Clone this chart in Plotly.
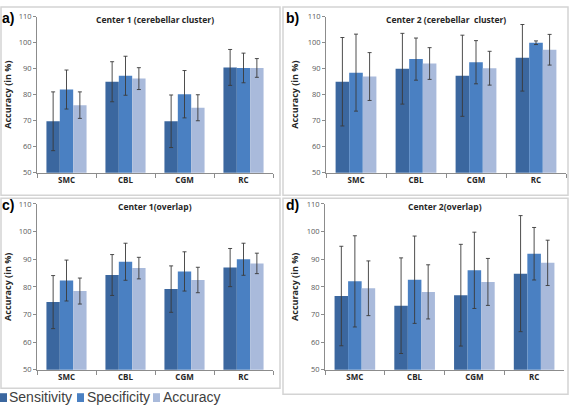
import plotly.graph_objects as go

W, H = 569, 407

categories = ["SMC", "CBL", "CGM", "RC"]
series_names = ["Sensitivity", "Specificity", "Accuracy"]
panel_titles = ["Center 1 (cerebellar cluster)", "Center 2 (cerebellar  cluster)",
                "Center 1(overlap)", "Center 2(overlap)"]
panel_letters = ["a)", "b)", "c)", "d)"]
y_ticks = [50, 60, 70, 80, 90, 100, 110]

# panel a
a_sens = [69.8, 85.0, 69.8, 90.5]
a_sens_err = [11.3, 7.7, 10.1, 6.9]
a_spec = [82.0, 87.3, 80.2, 90.3]
a_spec_err = [7.5, 7.5, 9.1, 5.7]
a_acc = [76.0, 86.2, 75.0, 90.3]
a_acc_err = [5.1, 4.2, 5.0, 3.6]
# panel b
b_sens = [85.0, 90.0, 87.3, 94.2]
b_sens_err = [17.0, 13.6, 15.6, 12.8]
b_spec = [88.5, 93.7, 92.5, 100.0]
b_spec_err = [14.8, 8.1, 8.3, 0.7]
b_acc = [87.0, 92.0, 90.2, 97.3]
b_acc_err = [9.2, 6.1, 6.5, 5.9]
# panel c
c_sens = [74.5, 84.3, 79.2, 87.0]
c_sens_err = [9.6, 7.4, 8.4, 6.9]
c_spec = [82.3, 89.1, 85.6, 90.0]
c_spec_err = [7.4, 6.7, 7.1, 5.8]
c_acc = [78.5, 86.8, 82.5, 88.5]
c_acc_err = [4.7, 3.9, 4.6, 3.7]
# panel d
d_sens = [76.7, 73.2, 77.0, 84.8]
d_sens_err = [18.0, 17.3, 18.4, 21.0]
d_spec = [82.0, 82.6, 86.0, 92.0]
d_spec_err = [16.5, 15.8, 13.8, 9.5]
d_acc = [79.5, 78.2, 81.8, 88.7]
d_acc_err = [9.9, 9.8, 8.5, 8.2]

panels = [
    [(a_sens, a_sens_err), (a_spec, a_spec_err), (a_acc, a_acc_err)],
    [(b_sens, b_sens_err), (b_spec, b_spec_err), (b_acc, b_acc_err)],
    [(c_sens, c_sens_err), (c_spec, c_spec_err), (c_acc, c_acc_err)],
    [(d_sens, d_sens_err), (d_spec, d_spec_err), (d_acc, d_acc_err)],
]

colors = ["#3b679f", "#4a80c2", "#a9badb"]

def px_x(p):
    return p / W

def px_y(p):
    return 1 - p / H

# plot areas in pixels: (x0, x1, ytop, ybottom)
areas = [(37, 273, 12, 172), (326, 566, 12, 172), (37, 273, 204, 374), (325, 564, 204, 374)]
# panel frames in pixels
frames = [(1, 2, 280, 195), (283, 2, 568, 195), (1, 198, 280, 393), (283, 198, 568, 399)]
letter_pos = [(0, 13), (284, 13), (0, 205), (284, 205)]
ytitle_x = [8, 295, 8, 295]

FONT = "Open Sans"
fig = go.Figure()
layout = {}
annotations = []
shapes = []

for i, (data, area) in enumerate(zip(panels, areas)):
    n = i + 1
    xa = "x" if n == 1 else f"x{n}"
    ya = "y" if n == 1 else f"y{n}"
    for (vals, errs), name, col in zip(data, series_names, colors):
        fig.add_trace(go.Bar(
            x=categories, y=vals, name=name, marker=dict(color=col, line=dict(width=0)),
            error_y=dict(type="data", array=errs, visible=True, color="#3a3a3a",
                         thickness=0.9, width=2),
            xaxis=xa, yaxis=ya, showlegend=False,
        ))
    x0, x1, yt, yb = area
    layout[f"xaxis{'' if n == 1 else n}"] = dict(
        domain=[px_x(x0), px_x(x1)], anchor=ya, showline=True, linecolor="#8c8c8c",
        linewidth=1, ticks="outside", tickson="boundaries", ticklen=4, tickcolor="#8c8c8c",
        tickfont=dict(family=FONT, size=8, color="#262626", weight="bold"),
        showgrid=False, fixedrange=True,
    )
    layout[f"yaxis{'' if n == 1 else n}"] = dict(
        domain=[px_y(yb), px_y(yt)], anchor=xa, range=[50, 110], tickvals=y_ticks,
        showline=True, linecolor="#8c8c8c", linewidth=1, ticks="outside", ticklen=3,
        tickcolor="#8c8c8c", tickfont=dict(family=FONT, size=7.5, color="#595959"),
        showgrid=False, zeroline=False, fixedrange=True,
    )
    annotations.append(dict(
        text=panel_titles[i], xref="paper", yref="paper",
        x=px_x((x0 + x1) / 2), y=px_y(yt + 3), xanchor="center", yanchor="middle",
        showarrow=False, font=dict(family=FONT, size=8.5, color="#262626", weight="bold"),
    ))
    lx, ly = letter_pos[i]
    annotations.append(dict(
        text=panel_letters[i], xref="paper", yref="paper",
        x=px_x(lx), y=px_y(ly), xanchor="left", yanchor="middle",
        showarrow=False, font=dict(family="Liberation Sans", size=14, color="#000", weight="bold"),
    ))
    annotations.append(dict(
        text="Accuracy (in %)", xref="paper", yref="paper", textangle=-90,
        x=px_x(ytitle_x[i]), y=px_y((yt + yb) / 2), xanchor="center", yanchor="middle",
        showarrow=False, font=dict(family=FONT, size=9, color="#262626", weight="bold"),
    ))
    fx0, fy0, fx1, fy1 = frames[i]
    shapes.append(dict(type="rect", xref="paper", yref="paper",
                       x0=px_x(fx0), x1=px_x(fx1), y0=px_y(fy1), y1=px_y(fy0),
                       line=dict(color="#d4d4d4", width=1.5), layer="below"))

# manual legend
legend_sq = [(0, 7), (77, 84), (153, 160)]
legend_tx = [7, 85, 161]
for name, col, (sx0, sx1), tx in zip(series_names, colors, legend_sq, legend_tx):
    shapes.append(dict(type="rect", xref="paper", yref="paper",
                       x0=px_x(sx0), x1=px_x(sx1), y0=px_y(407), y1=px_y(398),
                       fillcolor=col, line=dict(width=0)))
    annotations.append(dict(
        text=name, xref="paper", yref="paper", x=px_x(tx), y=px_y(402),
        xanchor="left", yanchor="middle", showarrow=False,
        font=dict(family="Liberation Sans", size=14, color="#404040"),
    ))

fig.update_layout(
    width=W, height=H, margin=dict(l=0, r=0, t=0, b=0),
    paper_bgcolor="white", plot_bgcolor="white",
    barmode="group", bargap=0.32, bargroupgap=0,
    annotations=annotations, shapes=shapes, showlegend=False,
    **layout,
)

fig.write_html("out.html")
